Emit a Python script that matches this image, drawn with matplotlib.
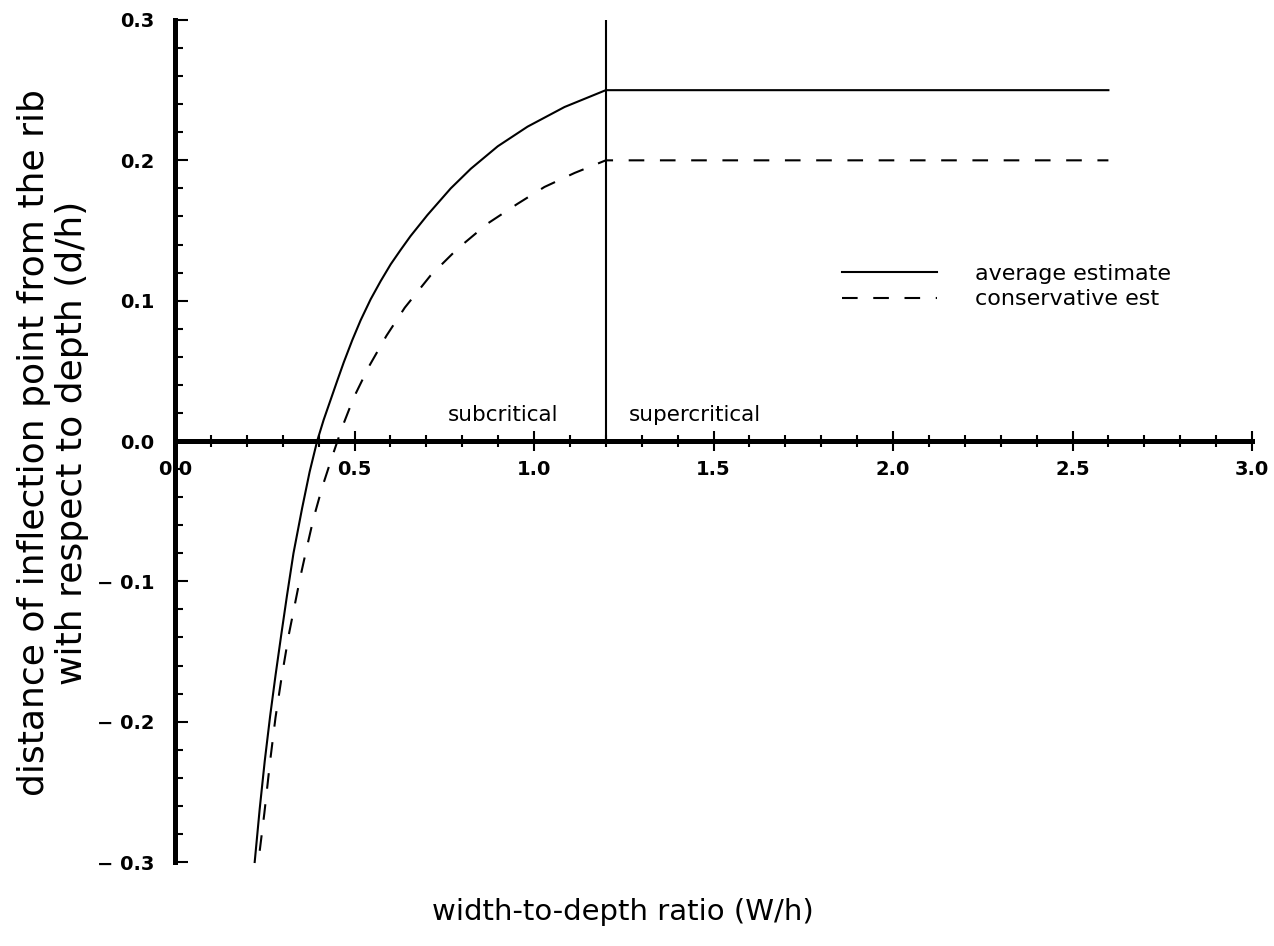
import matplotlib
matplotlib.use("Agg")
import matplotlib.pyplot as plt
from matplotlib.ticker import MultipleLocator, FuncFormatter
from matplotlib.lines import Line2D

# values
avg_x = [0.222, 0.236, 0.250, 0.265, 0.280, 0.296, 0.312, 0.330, 0.354, 0.375,
         0.396, 0.414, 0.433, 0.452, 0.470, 0.494, 0.517, 0.545, 0.573, 0.601,
         0.628, 0.656, 0.703, 0.768, 0.824, 0.899, 0.982, 1.085, 1.200, 2.600]
avg_y = [-0.300, -0.262, -0.228, -0.196, -0.167, -0.138, -0.110, -0.080, -0.048, -0.022,
         0.000, 0.015, 0.029, 0.043, 0.056, 0.072, 0.086, 0.101, 0.114, 0.126,
         0.136, 0.146, 0.161, 0.180, 0.194, 0.210, 0.224, 0.238, 0.250, 0.250]

cons_x = [0.236, 0.249, 0.265, 0.280, 0.296, 0.317, 0.335, 0.349, 0.368, 0.386,
          0.410, 0.438, 0.466, 0.498, 0.540, 0.589, 0.640, 0.712, 0.787, 0.871,
          0.954, 1.029, 1.113, 1.200, 2.600]
cons_y = [-0.292, -0.265, -0.228, -0.197, -0.170, -0.138, -0.115, -0.097, -0.075, -0.055,
          -0.033, -0.011, 0.010, 0.031, 0.053, 0.075, 0.095, 0.118, 0.137, 0.155,
          0.169, 0.181, 0.191, 0.200, 0.200]

critical_ratio = 1.2
labels = ["average estimate", "conservative est"]
regions = ["subcritical", "supercritical"]

plt.rcParams["font.family"] = "DejaVu Sans"

fig = plt.figure(figsize=(12.74, 9.46), dpi=100)
ax = fig.add_axes([175 / 1274, 84 / 946, 1077 / 1274, 842 / 946])

dash = (0, (7.5, 7.5))
ax.plot(avg_x, avg_y, color="black", lw=1.5, clip_on=False)
ax.plot(cons_x, cons_y, color="black", lw=1.5, ls=dash, clip_on=False)
ax.vlines(critical_ratio, 0, 0.3, color="black", lw=1.5, clip_on=False)

ax.set_xlim(0, 3.0)
ax.set_ylim(-0.3, 0.3)

for s in ["top", "right"]:
    ax.spines[s].set_visible(False)
ax.spines["bottom"].set_position(("data", 0))
ax.spines["left"].set_linewidth(3.6)
ax.spines["bottom"].set_linewidth(3.6)

ax.xaxis.set_major_locator(MultipleLocator(0.5))
ax.xaxis.set_minor_locator(MultipleLocator(0.1))
ax.yaxis.set_major_locator(MultipleLocator(0.1))
ax.yaxis.set_minor_locator(MultipleLocator(0.02))


def fmt(v, pos):
    if abs(v) < 1e-9:
        v = 0.0
    return f"{v:.1f}".replace("-", "\u2212 ")


ax.xaxis.set_major_formatter(FuncFormatter(fmt))
ax.yaxis.set_major_formatter(FuncFormatter(fmt))

ax.tick_params(axis="x", which="major", direction="inout", length=14, width=1.5,
               pad=7, labelsize=14)
ax.tick_params(axis="x", which="minor", direction="inout", length=8, width=1.5)
ax.tick_params(axis="y", which="major", direction="in", length=9, width=1.5,
               pad=15, labelsize=14)
ax.tick_params(axis="y", which="minor", direction="in", length=5.5, width=1.5)
for lab in ax.get_xticklabels() + ax.get_yticklabels():
    lab.set_fontweight("bold")

ax.text(0.913, 0.0185, regions[0], ha="center", va="center", fontsize=15.5)
ax.text(1.265, 0.0185, regions[1], ha="left", va="center", fontsize=15.5)

handles = [Line2D([], [], color="black", lw=1.5),
           Line2D([], [], color="black", lw=1.5, ls=dash)]
ax.legend(handles, labels, loc="center left", bbox_to_anchor=(1.857, 0.11),
          bbox_transform=ax.transData, frameon=False, fontsize=16,
          handlelength=4.3, handletextpad=1.7, labelspacing=0.25,
          borderpad=0, borderaxespad=0)

ax.set_xlabel("width-to-depth ratio (W/h)", fontsize=21, va="center")
ax.xaxis.set_label_coords(0.416, -0.059)
ax.set_ylabel("distance of inflection point from the rib\nwith respect to depth (d/h)",
              fontsize=26, va="center", linespacing=1.15)
ax.yaxis.set_label_coords(-0.113, 0.498)

fig.savefig("out.png", dpi=100)
